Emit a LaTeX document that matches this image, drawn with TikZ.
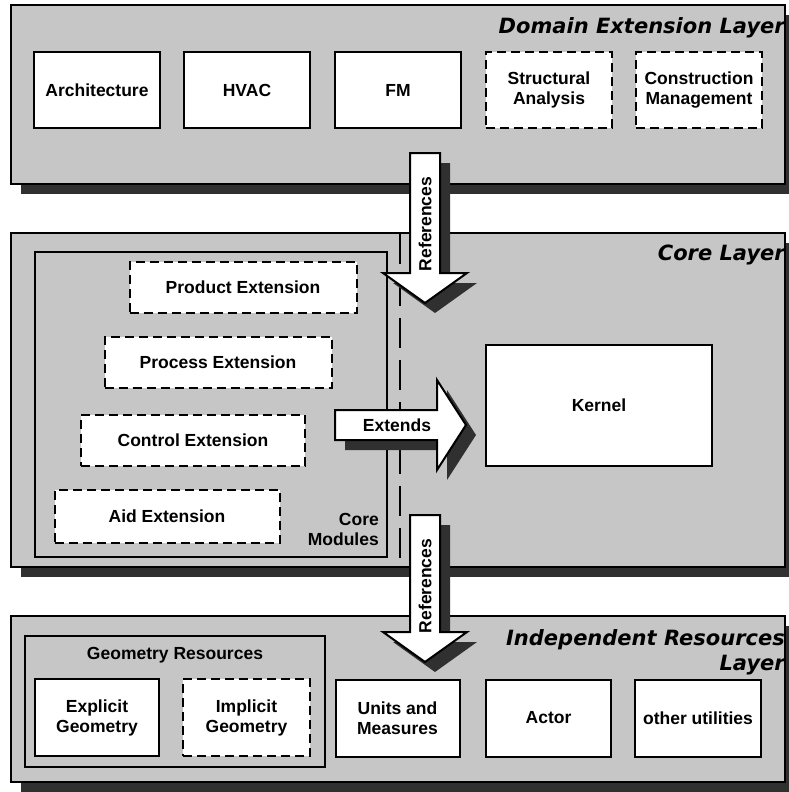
\documentclass[tikz,border=0pt]{standalone}
\usepackage{fontspec}
\setmainfont{Liberation Sans}
\newfontfamily\titlefont{DejaVu Sans}
\usetikzlibrary{shadows}

\definecolor{layergray}{HTML}{C6C6C6}
\definecolor{shadowgray}{HTML}{303030}

\tikzset{
  layerbox/.style={draw, line width=2.5pt, fill=layergray, inner sep=0pt,
    minimum width=774pt,
    drop shadow={shadow xshift=10pt, shadow yshift=-10pt, fill=shadowgray, opacity=1}},
  groupbox/.style={draw, line width=2pt, fill=layergray, inner sep=0pt},
  module/.style={draw, line width=2pt, fill=white, inner sep=0pt, align=center,
    font=\bfseries\fontsize{17.5}{20}\selectfont},
  planned/.style={module, dash pattern=on 9pt off 5pt},
  layertitle/.style={font=\titlefont\bfseries\itshape\fontsize{21}{26}\selectfont,
    inner sep=0pt, anchor=base east},
  plainlabel/.style={font=\bfseries\fontsize{17.5}{20}\selectfont, inner sep=0pt},
  blockarrow/.style={draw, line width=2pt, fill=white, line join=miter},
  arrowshadow/.style={fill=shadowgray, xshift=10pt, yshift=-10pt},
  splitline/.style={line width=1.5pt, dash pattern=on 30pt off 12pt},
}

\begin{document}
\begin{tikzpicture}[x=1pt, y=-1pt]
\useasboundingbox (0,0) rectangle (789,792);

% ---------- layers ----------
\node[layerbox, minimum height=179pt] (domain) at (398,94.5) {};
\node[layerbox, minimum height=334pt] (core)   at (398,400) {};
\node[layerbox, minimum height=166pt] (indep)  at (398,699) {};

% ---------- domain extension layer ----------
\node[module,  minimum width=126pt, minimum height=76pt] (arch)   at (97,90)  {Architecture};
\node[module,  minimum width=126pt, minimum height=76pt] (hvac)   at (247,90) {HVAC};
\node[module,  minimum width=126pt, minimum height=76pt] (fm)     at (398,90) {FM};
\node[planned, minimum width=126pt, minimum height=76pt] (struct) at (549,90) {Structural\\Analysis};
\node[planned, minimum width=126pt, minimum height=76pt] (constr) at (699,90) {Construction\\Management};

% ---------- core layer ----------
\node[groupbox, minimum width=352pt, minimum height=305pt] (coremods) at (211,404.5) {};
\node[planned, minimum width=227pt, minimum height=51pt] (product) at (243,287.5) {Product Extension};
\node[planned, minimum width=227pt, minimum height=51pt] (process) at (218,362)   {Process Extension};
\node[planned, minimum width=224pt, minimum height=51pt] (control) at (193,440)   {Control Extension};
\node[planned, minimum width=225pt, minimum height=53pt] (aid)     at (167,516.5) {Aid Extension};
\node[plainlabel, align=right, anchor=south east] (coremodlabel) at (379,546) {Core\\Modules};
\node[module, minimum width=226pt, minimum height=121pt] (kernel) at (599,405.5) {Kernel};

\coordinate (splittop) at (400,234);
\coordinate (splitbot) at (400,566);
\draw[splitline] (splittop) -- (splitbot);

% ---------- independent resources layer ----------
\node[groupbox, minimum width=300pt, minimum height=131pt] (geomres) at (175,701.5) {};
\node[plainlabel] (geomlabel) at (175,655) {Geometry Resources};
\node[module,  minimum width=124pt, minimum height=77pt] (explicit) at (97,717.5)  {Explicit\\Geometry};
\node[planned, minimum width=127pt, minimum height=77pt] (implicit) at (246.5,717.5) {Implicit\\Geometry};
\node[module,  minimum width=124pt, minimum height=77pt] (units)    at (397.5,718) {Units and\\Measures};
\node[module,  minimum width=125pt, minimum height=77pt] (actor)    at (548.5,718) {Actor};
\node[module,  minimum width=126pt, minimum height=77pt] (utils)    at (698,718)   {other utilities};

% ---------- block arrows ----------
% References: domain extension layer -> core layer
\fill[arrowshadow] (410,153) -- (440,153) -- (440,273) -- (467,273) -- (425,303)
  -- (383,273) -- (410,273) -- cycle;
\draw[blockarrow] (410,153) -- (440,153) -- (440,273) -- (467,273) -- (425,303)
  -- (383,273) -- (410,273) -- cycle;
\node[plainlabel, rotate=90] (refs1) at (425,224) {References};

% Extends: core modules -> kernel
\fill[arrowshadow] (335,410) -- (437,410) -- (437,380) -- (466,425) -- (437,470)
  -- (437,440) -- (335,440) -- cycle;
\draw[blockarrow] (335,410) -- (437,410) -- (437,380) -- (466,425) -- (437,470)
  -- (437,440) -- (335,440) -- cycle;
\node[plainlabel] (extends) at (397,425) {Extends};

% References: core layer -> independent resources layer
\fill[arrowshadow] (410,515) -- (440,515) -- (440,632) -- (467,632) -- (425,662)
  -- (383,632) -- (410,632) -- cycle;
\draw[blockarrow] (410,515) -- (440,515) -- (440,632) -- (467,632) -- (425,662)
  -- (383,632) -- (410,632) -- cycle;
\node[plainlabel, rotate=90] (refs2) at (425,586) {References};

% ---------- layer titles ----------
\node[layertitle] (domaintitle) at (785,34)  {Domain Extension Layer};
\node[layertitle] (coretitle)   at (785,260) {Core Layer};
\node[layertitle] (indeptitle)  at (785,645) {Independent Resources};
\node[layertitle] (indeptitle2) at (785,670) {Layer};
\end{tikzpicture}
\end{document}
